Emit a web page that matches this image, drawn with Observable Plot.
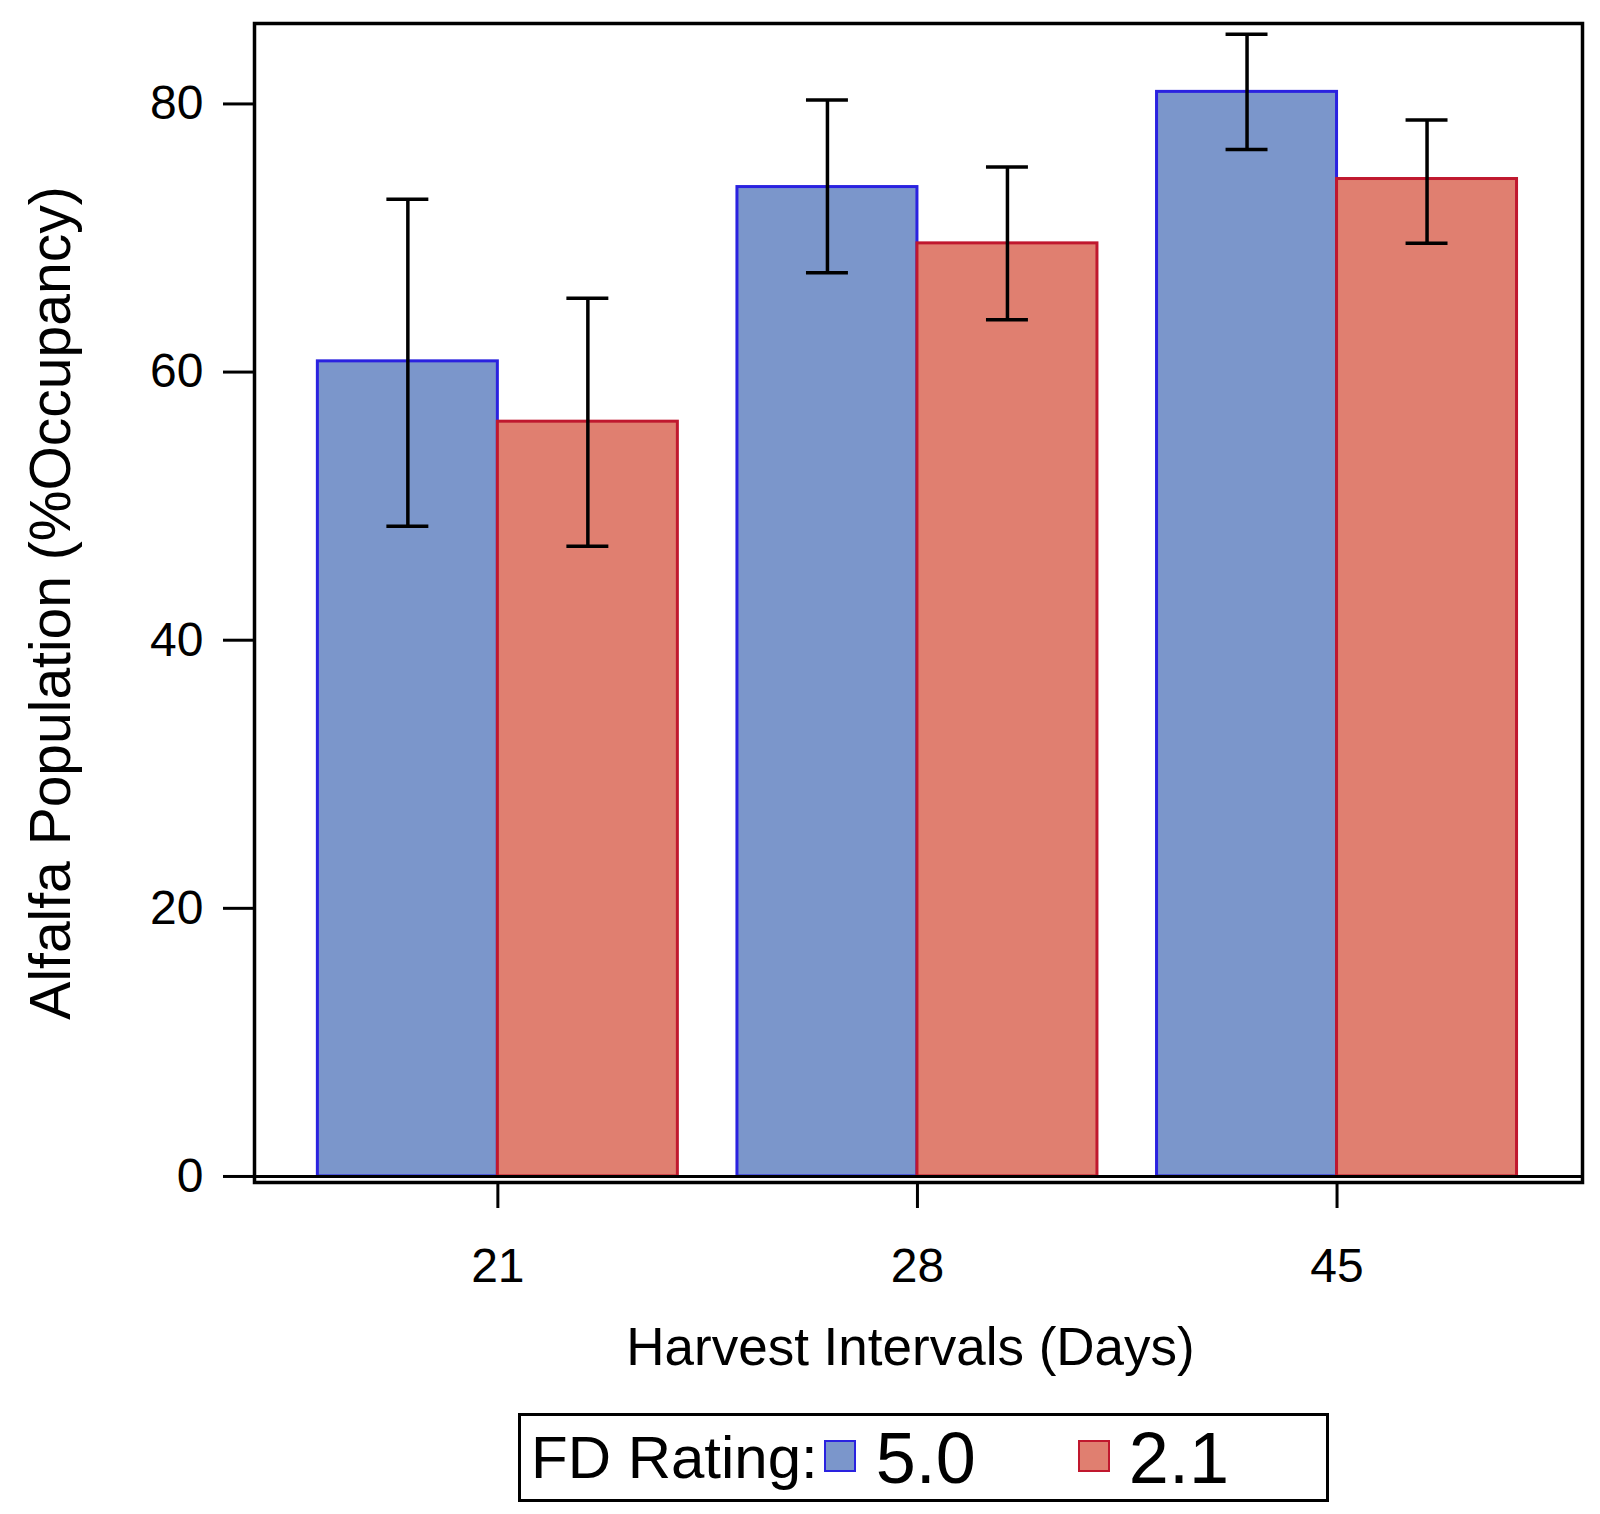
<!DOCTYPE html>
<html>
<head>
<meta charset="utf-8">
<script src="https://cdn.jsdelivr.net/npm/d3@7"></script>
<script src="https://cdn.jsdelivr.net/npm/@observablehq/plot@0.6"></script>
<style>
  body { margin: 0; background: #fff; font-family: "Liberation Sans", Arial, Helvetica, sans-serif; }
  #chart svg { display: block; }
  #legend {
    margin-left: 518px; margin-top: 8px; width: 805px; height: 83px;
    border: 3px solid #000; display: flex; align-items: center; box-sizing: content-box;
    position: relative;
  }
  #legend .lab { font-size: 60px; margin-left: 10px; line-height: 1; }
  #legend .sw { width: 32px; height: 32px; border: 2px solid; box-sizing: border-box; margin-top: -4px; }
  #legend .val { font-size: 72px; line-height: 1; }
</style>
</head>
<body>
<div id="chart"></div>
<script>
// Categories
const intervals = ["21", "28", "45"];
const ratings = ["5.0", "2.1"];
// Series values (mean % occupancy) and error bar limits
const mean50 = [60.8, 73.8, 80.9];
const lower50 = [48.5, 67.4, 76.6];
const upper50 = [72.9, 80.3, 85.2];
const mean21 = [56.3, 69.6, 74.4];
const lower21 = [47.0, 63.9, 69.6];
const upper21 = [65.5, 75.3, 78.8];
// Tick labels
const yTicks = [0, 20, 40, 60, 80];
const xLabel = "Harvest Intervals (Days)";
const yLabel = "Alfalfa Population (%Occupancy)";

const fills = {"5.0": "#7b96cb", "2.1": "#e07f70"};
const strokes = {"5.0": "#2a22e0", "2.1": "#c0182e"};

// Layout of the grouped bars in units of the category step
const barW = 0.429;   // width of each bar
const capW = 0.05;    // half-width of error bar caps

const rows = [];
intervals.forEach((iv, i) => {
  rows.push({interval: iv, idx: i, rating: "5.0", side: -1, mean: mean50[i], lower: lower50[i], upper: upper50[i]});
  rows.push({interval: iv, idx: i, rating: "2.1", side: 0, mean: mean21[i], lower: lower21[i], upper: upper21[i]});
});
const left = d => d.idx + d.side * barW;
const right = d => d.idx + (d.side + 1) * barW;
const mid = d => d.idx + (d.side + 0.5) * barW;

const W = 1600, H = 1405;
const barMarks = ratings.map(r => Plot.rectY(rows.filter(d => d.rating === r), {
  x1: left, x2: right, y1: 0, y2: "mean", fill: fills[r], stroke: strokes[r], strokeWidth: 3
}));

const chart = Plot.plot({
  width: W, height: H,
  marginLeft: 254, marginRight: 18, marginTop: 23, marginBottom: H - 1182,
  style: {fontFamily: '"Liberation Sans", Arial, Helvetica, sans-serif', color: "#000", background: "#fff"},
  x: {type: "linear", domain: [-0.58, 2.585], axis: null},
  y: {domain: [-0.45, 86], axis: null},
  marks: [
    ...barMarks,
    Plot.ruleY([0], {stroke: "#000", strokeWidth: 3}),
    Plot.ruleX(rows, {x: mid, y1: "lower", y2: "upper", stroke: "#000", strokeWidth: 3.5}),
    Plot.ruleY(rows, {y: "lower", x1: d => mid(d) - capW, x2: d => mid(d) + capW, stroke: "#000", strokeWidth: 3.5}),
    Plot.ruleY(rows, {y: "upper", x1: d => mid(d) - capW, x2: d => mid(d) + capW, stroke: "#000", strokeWidth: 3.5}),
    Plot.frame({stroke: "#000", strokeWidth: 3.5}),
    Plot.axisY({ticks: yTicks, tickSize: 31, tickPadding: 20, fontSize: 48, strokeWidth: 3, label: null}),
    Plot.axisY({ticks: [], tickSize: 0, fontSize: 57, label: yLabel, labelArrow: "none", labelAnchor: "center", labelOffset: 225}),
    Plot.axisX({ticks: intervals.map((_, i) => i), tickFormat: i => intervals[i], tickSize: 26, tickPadding: 39,
      fontSize: 48, strokeWidth: 3, label: null}),
    Plot.text([xLabel], {text: d => d, frameAnchor: "bottom", lineAnchor: "bottom", textAnchor: "middle",
      dy: 182, dx: -8, fontSize: 53, fill: "#000"})
  ]
});
document.getElementById("chart").appendChild(chart);

// Legend built from the series
const legend = document.createElement("div");
legend.id = "legend";
const lab = document.createElement("span");
lab.className = "lab"; lab.textContent = "FD Rating:";
legend.appendChild(lab);
ratings.forEach((r, i) => {
  const sw = document.createElement("span");
  sw.className = "sw";
  sw.style.background = fills[r];
  sw.style.borderColor = strokes[r];
  sw.style.marginLeft = i === 0 ? "6px" : "102px";
  legend.appendChild(sw);
  const v = document.createElement("span");
  v.className = "val"; v.textContent = r;
  v.style.marginLeft = i === 0 ? "20px" : "19px";
  legend.appendChild(v);
});
document.body.appendChild(legend);
</script>
</body>
</html>
